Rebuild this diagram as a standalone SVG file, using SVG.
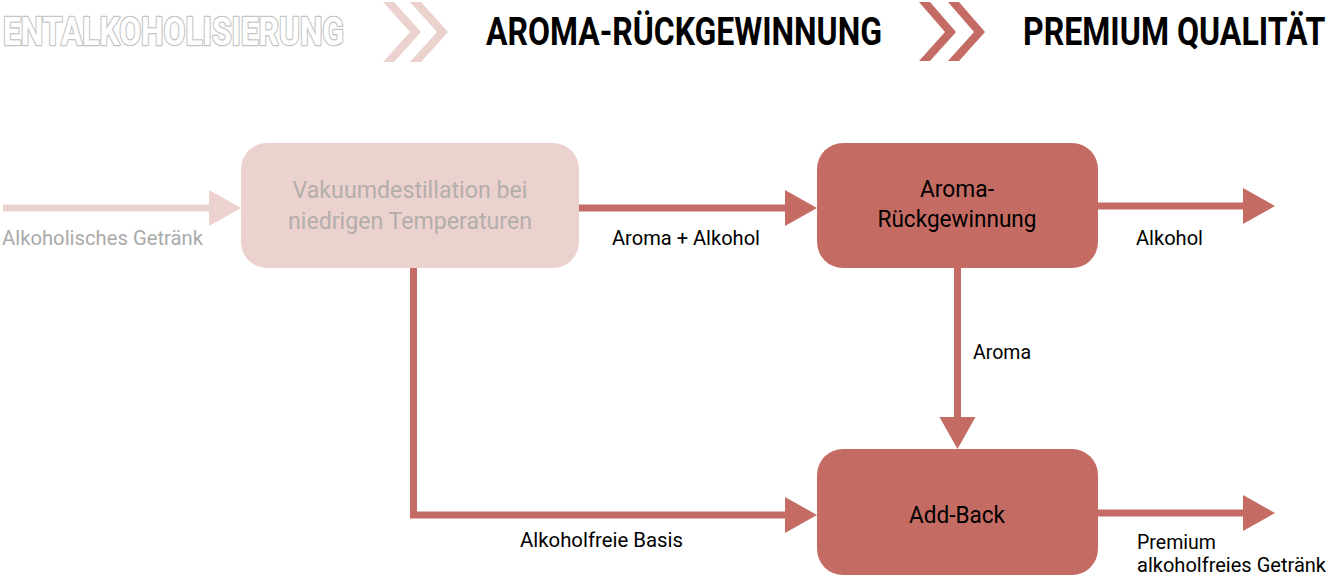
<svg xmlns="http://www.w3.org/2000/svg" width="1330" height="577" viewBox="0 0 1330 577">
<style>
.hdr{font-family:Roboto,"Liberation Sans",sans-serif;font-weight:700;font-size:38px}
.lbl{font-family:Roboto,"Liberation Sans",sans-serif;font-size:20px;fill:#000}
.node{font-family:Roboto,"Liberation Sans",sans-serif;font-size:23px;fill:#000;text-anchor:middle}
.dark{fill:#C46C64}
.light{fill:#ECD2CE}
.ldk{stroke:#C46C64;stroke-width:7;fill:none}
.llt{stroke:#ECD2CE;stroke-width:7;fill:none}
</style>
<rect width="1330" height="577" fill="#fff"/>
<g id="header">
<text class="hdr" x="3" y="45" fill="#fff" stroke="#c4c4c4" stroke-width="2.6" stroke-linejoin="round" textLength="341" lengthAdjust="spacingAndGlyphs">ENTALKOHOLISIERUNG</text>
<text class="hdr" x="3" y="45" fill="#fff" textLength="341" lengthAdjust="spacingAndGlyphs" aria-hidden="true">ENTALKOHOLISIERUNG</text>
<polygon class="light" points="383,2 394,2 421,32 394,62 383,62 410,32"/>
<polygon class="light" points="410,2 421,2 448,32 421,62 410,62 437,32"/>
<text class="hdr" x="486" y="45" fill="#000" textLength="396" lengthAdjust="spacingAndGlyphs">AROMA-RÜCKGEWINNUNG</text>
<polygon class="dark" points="919,2 930,2 956,32 930,61 919,61 945,32"/>
<polygon class="dark" points="948,2 959,2 985,32 959,61 948,61 974,32"/>
<text class="hdr" transform="translate(1023,45) scale(0.84,1)" x="0" y="0" fill="#000" textLength="360" lengthAdjust="spacingAndGlyphs">PREMIUM QUALITÄT</text>
</g>
<g id="connectors">
<line class="llt" x1="3" y1="208" x2="212" y2="208"/>
<polygon class="light" points="209,190 241,208 209,226"/>
<text class="lbl" x="2" y="245" style="fill:#aaa" textLength="201" lengthAdjust="spacingAndGlyphs">Alkoholisches Getränk</text>
<line class="ldk" x1="579" y1="208" x2="788" y2="208"/>
<polygon class="dark" points="785,190 817,208 785,226"/>
<text class="lbl" x="612" y="245" textLength="148" lengthAdjust="spacingAndGlyphs">Aroma + Alkohol</text>
<line class="ldk" x1="1098" y1="206" x2="1246" y2="206"/>
<polygon class="dark" points="1243,188 1275,206 1243,224"/>
<text class="lbl" x="1136" y="245" textLength="67" lengthAdjust="spacingAndGlyphs">Alkohol</text>
<line class="ldk" x1="957.5" y1="268" x2="957.5" y2="420"/>
<polygon class="dark" points="939.5,417 975.5,417 957.5,449"/>
<text class="lbl" x="973" y="359" textLength="58" lengthAdjust="spacingAndGlyphs">Aroma</text>
<polyline class="ldk" points="413.5,268 413.5,515 788,515"/>
<polygon class="dark" points="785,497 817,515 785,533"/>
<text class="lbl" x="520" y="547" textLength="163" lengthAdjust="spacingAndGlyphs">Alkoholfreie Basis</text>
<line class="ldk" x1="1098" y1="513" x2="1246" y2="513"/>
<polygon class="dark" points="1243,495 1275,513 1243,531"/>
<text class="lbl" x="1137" y="549" textLength="79" lengthAdjust="spacingAndGlyphs">Premium</text>
<text class="lbl" x="1137" y="572" textLength="189" lengthAdjust="spacingAndGlyphs">alkoholfreies Getränk</text>
</g>
<g id="node-vakuum">
<rect class="light" x="241" y="143" width="338" height="125" rx="26"/>
<text class="node" x="410" y="198" style="fill:#b3aeac" textLength="235" lengthAdjust="spacingAndGlyphs">Vakuumdestillation bei</text>
<text class="node" x="410" y="229" style="fill:#b3aeac" textLength="244" lengthAdjust="spacingAndGlyphs">niedrigen Temperaturen</text>
</g>
<g id="node-aroma">
<rect class="dark" x="817" y="143" width="281" height="125" rx="26"/>
<text class="node" x="957" y="197" textLength="74" lengthAdjust="spacingAndGlyphs">Aroma-</text>
<text class="node" x="957" y="227" textLength="159" lengthAdjust="spacingAndGlyphs">Rückgewinnung</text>
</g>
<g id="node-addback">
<rect class="dark" x="817" y="449" width="281" height="126" rx="26"/>
<text class="node" x="957" y="523" style="font-size:24px" textLength="96" lengthAdjust="spacingAndGlyphs">Add-Back</text>
</g>
</svg>
